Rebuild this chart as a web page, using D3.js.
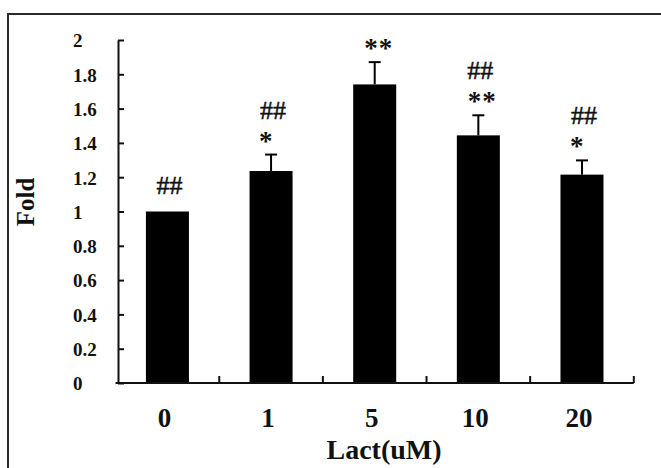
<!DOCTYPE html>
<html>
<head>
<meta charset="utf-8">
<script src="https://cdn.jsdelivr.net/npm/d3@7"></script>
<style>
  body { margin: 0; background: #fff; }
  text { font-family: "Liberation Serif", "Times New Roman", serif; fill: #111; }
</style>
</head>
<body>
<svg id="chart" width="661" height="468"></svg>
<script>
// data
var categories = ["0", "1", "5", "10", "20"];
var foldValues = [1.0, 1.236, 1.741, 1.444, 1.215];
var foldErrors = [0, 0.096, 0.130, 0.117, 0.083];
var starMarks = ["", "*", "**", "**", "*"];
var hashMarks = ["##", "##", "", "##", "##"];
var yTicks = [0, 0.2, 0.4, 0.6, 0.8, 1, 1.2, 1.4, 1.6, 1.8, 2];

var svg = d3.select("#chart");

// outer frame (runs off the right and bottom of the picture)
svg.append("rect")
  .attr("x", 8).attr("y", 14)
  .attr("width", 700).attr("height", 500)
  .attr("fill", "none")
  .attr("stroke", "#2a2a2a")
  .attr("stroke-width", 2);

var yAxisX = 118;

// Set the ranges
var x = d3.scaleBand()
  .domain(categories)
  .range([115.6, 633.8])
  .paddingInner(0.585)
  .paddingOuter(0.2925);
var y = d3.scaleLinear().domain([0, 2]).range([383, 40]);

// bars
svg.append("g")
    .attr("fill", "#000")
  .selectAll("rect").data(foldValues).enter().append("rect")
    .attr("x", (d, i) => x(categories[i]))
    .attr("y", d => y(d))
    .attr("width", x.bandwidth())
    .attr("height", d => y(0) - y(d));

// error bars (upper half only)
var errG = svg.append("g")
  .attr("stroke", "#000")
  .attr("stroke-width", 2);
foldValues.forEach(function(v, i) {
  if (!foldErrors[i]) return;
  var cx = x(categories[i]) + x.bandwidth() / 2;
  errG.append("line")
    .attr("x1", cx).attr("x2", cx)
    .attr("y1", y(v)).attr("y2", y(v + foldErrors[i]));
  errG.append("line")
    .attr("x1", cx - 6).attr("x2", cx + 6)
    .attr("y1", y(v + foldErrors[i])).attr("y2", y(v + foldErrors[i]));
});

// significance marks
var markG = svg.append("g").style("font-size", "26px");
foldValues.forEach(function(v, i) {
  var cx = x(categories[i]) + x.bandwidth() / 2;
  var top = y(v + foldErrors[i]);
  var base;
  if (starMarks[i]) {
    base = top - 5;
    var single = hashMarks[i] && starMarks[i] == "*";
    markG.append("text")
      .attr("x", single ? cx - 12 : cx + 4)
      .attr("y", base)
      .style("text-anchor", single ? "start" : "middle")
      .style("font-weight", "bold")
      .style("font-size", "27px")
      .style("letter-spacing", "1px")
      .text(starMarks[i]);
    base -= 31;
  } else {
    base = top - 18;
  }
  if (hashMarks[i]) {
    markG.append("text")
      .attr("x", cx + 2)
      .attr("y", base)
      .style("text-anchor", "middle")
      .style("stroke", "#111")
      .style("stroke-width", 0.5)
      .text(hashMarks[i]);
  }
});

// Y axis
var yAxisG = svg.append("g")
  .attr("transform", "translate(" + yAxisX + ",0)")
  .call(d3.axisLeft(y).tickValues(yTicks).tickSizeInner(-6).tickSizeOuter(0)
    .tickFormat(d => d3.format("")(d)));
yAxisG.select(".domain").attr("stroke", "#111").attr("stroke-width", 2);
yAxisG.selectAll(".tick line").attr("stroke", "#111").attr("stroke-width", 2);
yAxisG.selectAll(".tick text")
  .attr("x", -45)
  .attr("dy", "0.36em")
  .style("text-anchor", "start")
  .style("font-family", "'Liberation Serif', serif")
  .style("font-weight", "bold")
  .style("font-size", "19px")
  .attr("fill", "#111");

// X axis
var xr = x.range();
var step = x.step();
var xAxisG = svg.append("g");
xAxisG.append("line")
  .attr("x1", xr[0]).attr("x2", xr[1])
  .attr("y1", y(0)).attr("y2", y(0))
  .attr("stroke", "#111").attr("stroke-width", 2);
xAxisG.selectAll("line.tick").data(categories).enter().append("line")
  .attr("class", "tick")
  .attr("x1", (d, i) => xr[0] + step * (i + 1))
  .attr("x2", (d, i) => xr[0] + step * (i + 1))
  .attr("y1", y(0)).attr("y2", y(0) - 7)
  .attr("stroke", "#111").attr("stroke-width", 2);
xAxisG.selectAll("text").data(categories).enter().append("text")
  .attr("x", d => x(d) + x.bandwidth() / 2 - 3)
  .attr("y", 427)
  .style("text-anchor", "middle")
  .style("font-weight", "bold")
  .style("font-size", "27px")
  .text(d => d);

// axis titles
svg.append("text")
  .attr("x", 384)
  .attr("y", 459)
  .style("text-anchor", "middle")
  .style("font-weight", "bold")
  .style("font-size", "28px")
  .text("Lact(uM)");

svg.append("text")
  .attr("transform", "translate(34,202) rotate(-90)")
  .style("text-anchor", "middle")
  .style("font-weight", "bold")
  .style("font-size", "25px")
  .text("Fold");
</script>
</body>
</html>
